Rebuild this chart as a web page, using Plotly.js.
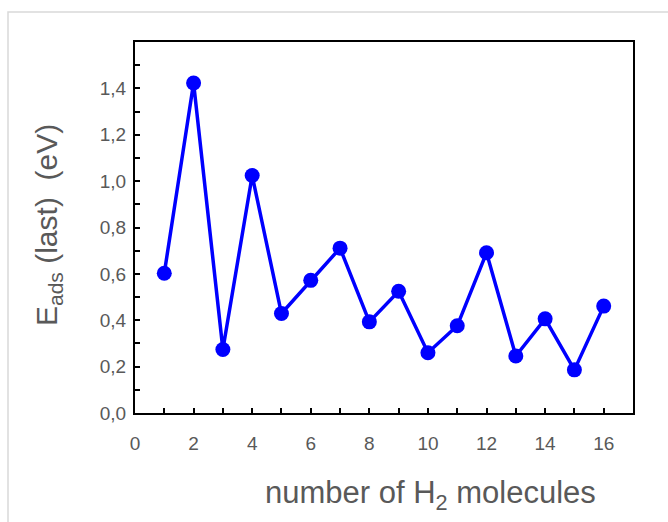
<!DOCTYPE html>
<html>
<head>
<meta charset="utf-8">
<script src="https://cdn.plot.ly/plotly-3.0.1.min.js"></script>
<style>html,body{margin:0;padding:0;background:#fff;}#chart{width:668px;height:522px;}</style>
</head>
<body>
<div id="chart"></div>
<script>
const moleculeCount = [1, 2, 3, 4, 5, 6, 7, 8, 9, 10, 11, 12, 13, 14, 15, 16];
const adsorptionEnergy = [0.603, 1.423, 0.274, 1.024, 0.429, 0.572, 0.711, 0.393, 0.525, 0.260, 0.376, 0.691, 0.246, 0.406, 0.186, 0.461];
const xTickValues = [0, 2, 4, 6, 8, 10, 12, 14, 16];
const yTickValues = [0, 0.2, 0.4, 0.6, 0.8, 1.0, 1.2, 1.4];

const fontFamily = 'Arial, "Liberation Sans", sans-serif';
const textGray = '#595959';

const trace = {
  x: moleculeCount,
  y: adsorptionEnergy,
  type: 'scatter',
  mode: 'lines+markers',
  line: {color: '#0000FF', width: 3.5},
  marker: {color: '#0000FF', size: 15},
  hoverinfo: 'x+y'
};

const axisCommon = {
  showline: true,
  mirror: true,
  linecolor: '#000000',
  linewidth: 2,
  showgrid: false,
  zeroline: false,
  ticks: 'inside',
  ticklen: 5,
  tickwidth: 2,
  tickcolor: '#000000',
  tickfont: {family: fontFamily, size: 19, color: textGray}
};

const layout = {
  width: 668,
  height: 522,
  margin: {l: 135, r: 35, t: 42, b: 109},
  paper_bgcolor: '#ffffff',
  plot_bgcolor: '#ffffff',
  separators: ', ',
  showlegend: false,
  xaxis: Object.assign({}, axisCommon, {
    range: [0, 17],
    tickvals: xTickValues,
    ticklabelstandoff: 12,
    minor: {dtick: 1, tick0: 0, ticks: 'inside', ticklen: 5, tickwidth: 2, tickcolor: '#000000', showgrid: false}
  }),
  yaxis: Object.assign({}, axisCommon, {
    range: [0, 1.6],
    tickvals: yTickValues,
    tickformat: '.1f',
    ticklabelstandoff: 3,
    minor: {dtick: 0.1, tick0: 0, ticks: 'inside', ticklen: 5, tickwidth: 2, tickcolor: '#000000', showgrid: false}
  }),
  shapes: [{
    type: 'rect', xref: 'paper', yref: 'paper',
    x0: (8 - 135) / 498, x1: 1.3, y0: -0.6, y1: (413 - 12) / 371,
    line: {color: '#d9d9d9', width: 1.5}, fillcolor: 'rgba(0,0,0,0)', layer: 'below'
  }],
  annotations: [{
    xref: 'paper', yref: 'paper',
    x: (430 - 135) / 498, y: (413 - 495) / 371,
    xanchor: 'center', yanchor: 'middle',
    text: 'number of H<sub>2</sub> molecules',
    showarrow: false,
    font: {family: fontFamily, size: 31, color: textGray}
  }, {
    xref: 'paper', yref: 'paper',
    x: (48 - 135) / 498, y: (413 - 225) / 371,
    xanchor: 'center', yanchor: 'middle',
    textangle: -90,
    text: 'E<sub>ads</sub> (last)  (eV)',
    showarrow: false,
    font: {family: fontFamily, size: 30, color: textGray}
  }]
};

Plotly.newPlot('chart', [trace], layout, {displayModeBar: false, staticPlot: true});
</script>
</body>
</html>
